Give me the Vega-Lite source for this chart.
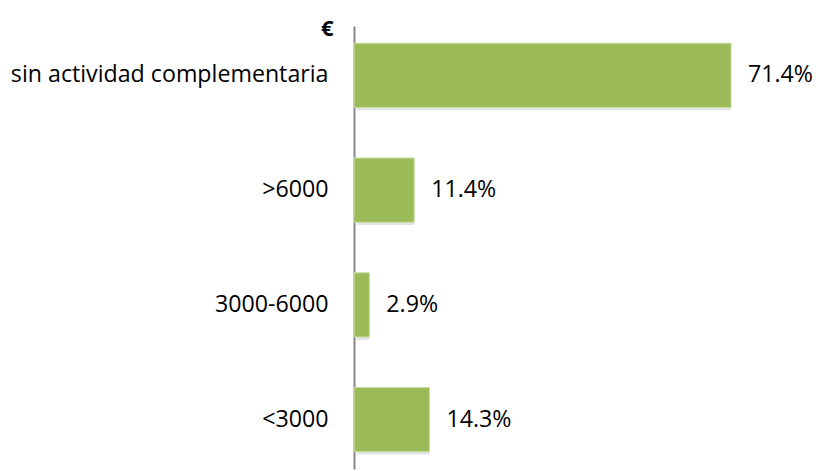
{
  "$schema": "https://vega.github.io/schema/vega-lite/v6.json",
  "autosize": "none",
  "width": 440,
  "height": 443,
  "padding": {"left": 354, "top": 26, "right": 22, "bottom": 2},
  "background": "white",
  "config": {"view": {"stroke": null}, "font": "Open Sans"},
  "data": {
    "values": [
      {"cat": "sin actividad complementaria", "value": 71.4, "label": "71.4%"},
      {"cat": ">6000", "value": 11.4, "label": "11.4%"},
      {"cat": "3000-6000", "value": 2.9, "label": "2.9%"},
      {"cat": "<3000", "value": 14.3, "label": "14.3%"}
    ]
  },
  "encoding": {
    "y": {
      "field": "cat",
      "type": "nominal",
      "sort": null,
      "scale": {"paddingInner": 0.44, "paddingOuter": 0.15},
      "axis": {
        "title": "€",
        "titleAngle": 0,
        "titleFont": "Open Sans",
        "titleFontSize": 22,
        "titleFontWeight": "bold",
        "titleColor": "#000000",
        "titleAlign": "right",
        "titleBaseline": "alphabetic",
        "titleX": -21,
        "titleY": 9,
        "labelFont": "Open Sans",
        "labelFontSize": 23.2,
        "labelColor": "#000000",
        "labelPadding": 26,
        "ticks": false,
        "grid": false,
        "domainColor": "#868686",
        "domainWidth": 2,
        "labelLimit": 400
      }
    },
    "x": {
      "field": "value",
      "type": "quantitative",
      "scale": {"domain": [0, 83.33], "nice": false},
      "axis": null
    }
  },
  "layer": [
    {
      "mark": {"type": "bar", "color": "#7f7f7f", "opacity": 0.22, "xOffset": 3, "yOffset": 3, "cornerRadius": 1}
    },
    {
      "mark": {"type": "bar", "color": "#9BBB59", "stroke": "#c9dca6", "strokeWidth": 1}
    },
    {
      "mark": {"type": "text", "align": "left", "baseline": "middle", "dx": 17, "font": "Open Sans", "fontSize": 23.2, "color": "#000000"},
      "encoding": {"text": {"field": "label"}}
    }
  ]
}
